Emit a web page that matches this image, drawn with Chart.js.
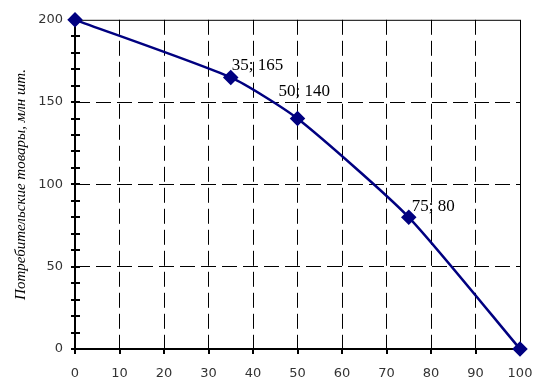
<!DOCTYPE html>
<html>
<head>
<meta charset="utf-8">
<script src="https://cdn.jsdelivr.net/npm/chart.js@4/dist/chart.umd.min.js"></script>
<style>
html,body{margin:0;padding:0;background:#fff;}
#wrap{width:558px;height:385px;position:relative;}
</style>
</head>
<body>
<div id="wrap"><canvas id="c" width="558" height="385"></canvas></div>
<script>
// Data
const capitalGoods = [0, 35, 50, 75, 100];
const consumerGoods = [200, 165, 140, 80, 0];
const labeledPoints = [1, 2, 3];
const yAxisTitle = 'Потребительские товары, млн шт.';

const points = capitalGoods.map((x, i) => ({x: x, y: consumerGoods[i]}));

// label placement (style)
const labelOffsets = {1: [1, -12], 2: [-19, -27], 3: [3, -11]};

const decor = {
  id: 'decor',
  beforeDatasetsDraw(chart) {
    const ctx = chart.ctx;
    const xs = chart.scales.x, ys = chart.scales.y;
    const a = chart.chartArea;
    ctx.save();
    ctx.strokeStyle = '#000';
    ctx.lineWidth = 1;
    ctx.beginPath();
    ctx.moveTo(a.left, a.top + 0.5); ctx.lineTo(a.right, a.top + 0.5);
    ctx.moveTo(a.right + 0.5, a.top); ctx.lineTo(a.right + 0.5, a.bottom);
    ctx.stroke();
    ctx.lineWidth = 2;
    ctx.beginPath();
    ctx.moveTo(a.left, a.top); ctx.lineTo(a.left, a.bottom + 1);
    ctx.moveTo(a.left - 1, a.bottom); ctx.lineTo(a.right, a.bottom);
    ctx.stroke();
    ctx.beginPath();
    ys.ticks.forEach(t => {
      const y = Math.round(ys.getPixelForValue(t.value));
      ctx.moveTo(a.left - 4, y); ctx.lineTo(a.left + 5, y);
    });
    xs.ticks.forEach(t => {
      const x = Math.round(xs.getPixelForValue(t.value));
      ctx.moveTo(x, a.bottom); ctx.lineTo(x, a.bottom + 5);
    });
    ctx.stroke();
    ctx.restore();
  },
  afterDatasetsDraw(chart) {
    const ctx = chart.ctx;
    ctx.save();
    ctx.fillStyle = '#000';
    ctx.font = '17px "Liberation Serif", "Times New Roman", serif';
    ctx.textAlign = 'left';
    ctx.textBaseline = 'middle';
    const meta = chart.getDatasetMeta(0);
    labeledPoints.forEach(i => {
      const el = meta.data[i];
      const off = labelOffsets[i];
      ctx.fillText(capitalGoods[i] + '; ' + consumerGoods[i], el.x + off[0], el.y + off[1]);
    });
    ctx.restore();
  }
};

const tickFont = {family: '"DejaVu Sans", Tahoma, sans-serif', size: 13};

new Chart(document.getElementById('c'), {
  type: 'line',
  data: {
    datasets: [{
      data: points,
      borderColor: '#000080',
      backgroundColor: '#000080',
      borderWidth: 2.5,
      pointStyle: 'rectRot',
      pointRadius: 6,
      pointHoverRadius: 6,
      tension: 0.2,
      fill: false,
      clip: false
    }]
  },
  options: {
    responsive: false,
    animation: false,
    events: [],
    layout: {padding: {left: 0, top: 19, right: 38, bottom: 0}},
    plugins: {legend: {display: false}, tooltip: {enabled: false}},
    scales: {
      x: {
        type: 'linear', min: 0, max: 100,
        afterFit(s) { s.height = 36; },
        ticks: {stepSize: 10, autoSkip: false, maxRotation: 0, padding: 17, color: '#333', font: tickFont},
        grid: {
          drawTicks: false,
          lineWidth: 1,
          color: c => (c.tick && c.tick.value > 0 && c.tick.value < 100) ? '#000' : 'rgba(0,0,0,0)'
        },
        border: {display: false, dash: [15, 6]}
      },
      y: {
        type: 'linear', min: 0, max: 200,
        afterFit(s) { s.width = 75; },
        ticks: {
          stepSize: 10, autoSkip: false, padding: 12, color: '#333', font: tickFont,
          callback: v => (v % 50 === 0 ? v : '')
        },
        grid: {
          drawTicks: false,
          lineWidth: 1,
          color: c => (c.tick && c.tick.value % 50 === 0 && c.tick.value > 0 && c.tick.value < 200) ? '#000' : 'rgba(0,0,0,0)'
        },
        border: {display: false, dash: [15, 6]},
        title: {
          display: true, text: yAxisTitle, color: '#000',
          font: {family: '"Liberation Serif", "Times New Roman", serif', size: 15, style: 'italic'},
          padding: {top: 12, bottom: 0}
        }
      }
    }
  },
  plugins: [decor]
});
</script>
</body>
</html>
